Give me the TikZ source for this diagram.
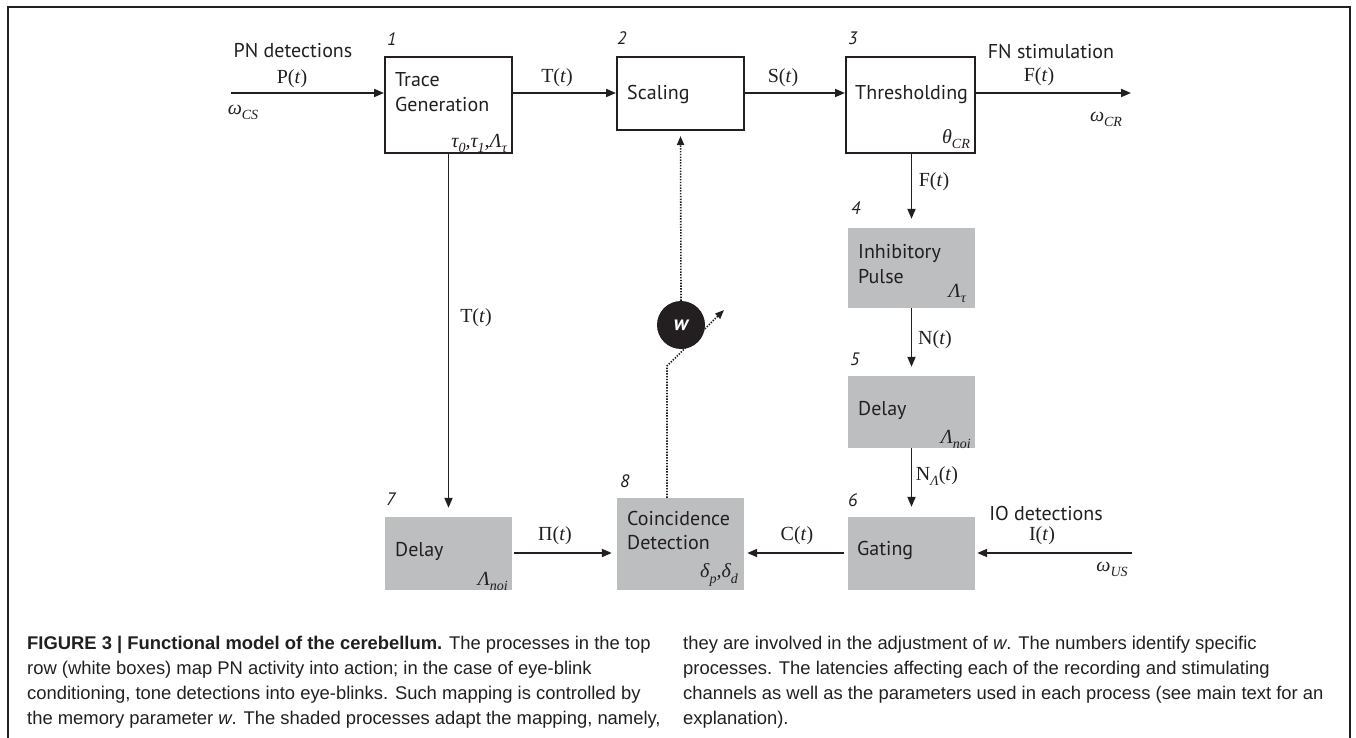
\documentclass[tikz,border=0pt]{standalone}
\usepackage{fontspec}
\setmainfont{PT Sans}
\newfontfamily\mf{Liberation Serif}
\newfontfamily\capf{Liberation Sans}
\usetikzlibrary{arrows.meta}
\definecolor{ink}{RGB}{35,31,32}
\definecolor{boxgray}{RGB}{189,190,192}
\newcommand\fnl[1]{{\mf #1(\textit{t})}}
\newcommand\sbx[1]{\raisebox{-0.55ex}{\fontsize{14}{14}\selectfont #1}}
\tikzset{
  whitebox/.style={draw=ink, line width=2pt, fill=white, inner sep=0pt},
  graybox/.style={fill=boxgray, minimum width=127pt, inner sep=0pt},
  boxtxt/.style={font=\fontsize{20}{24}\selectfont, inner sep=0pt, anchor=base west, text=ink},
  siglbl/.style={font=\fontsize{20}{24}\selectfont, inner sep=0pt, text=ink},
  parlbl/.style={font=\fontsize{20}{24}\selectfont\mf\itshape, inner sep=0pt, anchor=east, text=ink},
  numlbl/.style={font=\fontsize{18}{20}\selectfont\itshape, inner sep=0pt, anchor=base west, text=ink},
  arr/.style={draw=ink, line width=1.8pt, -{Triangle[length=10pt,width=8pt]}},
  dotl/.style={draw=ink, line width=1.6pt, dash pattern=on 1.4pt off 1.4pt, -{Triangle[length=9pt,width=7pt]}},
  captext/.style={font=\fontsize{18.4}{22}\selectfont\capf, inner sep=0pt, anchor=base west, text=ink}
}
\begin{document}
\begin{tikzpicture}[x=1pt,y=-1pt]
\useasboundingbox (0,0) rectangle (1356,738);
\draw[ink, line width=1.3pt] (8,738) -- (8,7) -- (1350,7) -- (1350,738);

% boxes
\node[whitebox, minimum width=127pt, minimum height=96pt] (b1) at (448.5,105) {};
\node[whitebox, minimum width=127pt, minimum height=73pt] (b2) at (680.5,93.5) {};
\node[whitebox, minimum width=129pt, minimum height=96pt] (b3) at (910.5,105) {};
\node[graybox, minimum height=80pt] (b4) at (911.5,268) {};
\node[graybox, minimum height=72pt] (b5) at (911.5,412) {};
\node[graybox, minimum height=73pt] (b6) at (911.5,553.5) {};
\node[graybox, minimum height=73pt] (b7) at (448.5,553.5) {};
\node[graybox, minimum height=92pt] (b8) at (680.5,544) {};

% box texts
\node[boxtxt] (t1a) at (395,87) {Trace};
\node[boxtxt] (t1b) at (395,112) {Generation};
\node[boxtxt] (t2) at (627,100) {Scaling};
\node[boxtxt] (t3) at (855,100) {Thresholding};
\node[boxtxt] (t4a) at (858,258) {Inhibitory};
\node[boxtxt] (t4b) at (858,283) {Pulse};
\node[boxtxt] (t5) at (858,415) {Delay};
\node[boxtxt] (t6) at (857,555) {Gating};
\node[boxtxt] (t7) at (395,556) {Delay};
\node[boxtxt] (t8a) at (627,525) {Coincidence};
\node[boxtxt] (t8b) at (627,549) {Detection};

% numbers
\node[numlbl] (n1) at (387,46) {1};
\node[numlbl] (n2) at (617,45) {2};
\node[numlbl] (n3) at (848,45) {3};
\node[numlbl] (n4) at (851,214) {4};
\node[numlbl] (n5) at (850,365) {5};
\node[numlbl] (n6) at (848,506) {6};
\node[numlbl] (n7) at (386,505) {7};
\node[numlbl] (n8) at (620,487) {8};

% parameters
\node[parlbl] (p1) at (507,143) {τ\sbx{0},τ\sbx{1},Λ\sbx{τ}};
\node[parlbl] (p3) at (970,139) {θ\sbx{CR}};
\node[parlbl] (p4) at (966,293) {Λ\sbx{τ}};
\node[parlbl] (p5) at (971,439) {Λ\sbx{noi}};
\node[parlbl] (p7) at (508,581) {Λ\sbx{noi}};
\node[parlbl] (p8) at (738,575) {δ\sbx{p},δ\sbx{d}};

% top row connectors
\coordinate (pin) at (231,93);
\coordinate (fout) at (1131,93);
\draw[arr] (pin) -- (pin -| b1.west);
\draw[arr] (b1.east |- pin) -- (b2.west |- pin);
\draw[arr] (b2.east |- pin) -- (b3.west |- pin);
\draw[arr] (b3.east |- pin) -- (fout);

% vertical connectors
\draw[arr, shorten >=9pt] (b4.north |- b3.south) -- (b4.north);
\draw[arr, shorten >=9pt] (b4.south) -- (b5.north);
\draw[arr, shorten >=10pt] (b5.south) -- (b6.north);
\draw[arr, shorten >=9pt] (b1.south) -- (b7.north);

% bottom row connectors
\coordinate (ya) at (0,553);
\coordinate (iin) at (1132,553);
\draw[arr, shorten <=2pt, shorten >=5pt] (b7.east |- ya) -- (b8.west |- ya);
\draw[arr, shorten <=4pt, shorten >=3pt] (b6.west |- ya) -- (b8.east |- ya);
\draw[arr, shorten >=2pt] (iin) -- (b6.east |- iin);

% dotted adjustment path and weight
\coordinate (c1) at (667,366);
\coordinate (c2) at (724,310);
\draw[dotl] (b8.north -| c1) -- (c1) -- (c2);
\node[circle, fill=ink, minimum size=48pt, inner sep=0pt, text=white,
      font=\fontsize{21}{21}\selectfont\bfseries\itshape] (w) at (681,325) {w};
\draw[dotl, shorten >=5pt] (w.north) -- (b2.south);

% signal labels
\node[siglbl] (lpn) at (293,51) {PN detections};
\node[siglbl] (lp) at (292,79) {\fnl{P}};
\node[siglbl, font=\fontsize{20}{24}\selectfont\mf\itshape] (lwcs) at (243,112) {ω\sbx{CS}};
\node[siglbl] (lt) at (557,78) {\fnl{T}};
\node[siglbl] (ls) at (783,78) {\fnl{S}};
\node[siglbl] (lfn) at (1051,52) {FN stimulation};
\node[siglbl] (lf) at (1039,77) {\fnl{F}};
\node[siglbl, font=\fontsize{20}{24}\selectfont\mf\itshape] (lwcr) at (1106,119) {ω\sbx{CR}};
\node[siglbl] (lf2) at (934,182) {\fnl{F}};
\node[siglbl] (ln) at (935,340) {\fnl{N}};
\node[siglbl] (lnl) at (937,476) {{\mf N\sbx{\itshape Λ}(\textit{t})}};
\node[siglbl] (lt2) at (476,318) {\fnl{T}};
\node[siglbl] (lpi) at (555,536) {\fnl{Π}};
\node[siglbl] (lc) at (797,536) {\fnl{C}};
\node[siglbl] (lio) at (1046,513) {IO detections};
\node[siglbl] (li) at (1042,536) {\fnl{I}};
\node[siglbl, font=\fontsize{20}{24}\selectfont\mf\itshape] (lwus) at (1112,569) {ω\sbx{US}};

% caption
\node[captext] (ca1) at (27,649) {\textbf{FIGURE 3 | Functional model of the cerebellum.} The processes in the top};
\node[captext] (ca2) at (27,674) {row (white boxes) map PN activity into action; in the case of eye-blink};
\node[captext] (ca3) at (27,699) {conditioning, tone detections into eye-blinks. Such mapping is controlled by};
\node[captext] (ca4) at (27,724) {the memory parameter \textit{w}. The shaded processes adapt the mapping, namely,};
\node[captext] (cb1) at (683,649) {they are involved in the adjustment of \textit{w}. The numbers identify specific};
\node[captext] (cb2) at (683,674) {processes. The latencies affecting each of the recording and stimulating};
\node[captext] (cb3) at (683,699) {channels as well as the parameters used in each process (see main text for an};
\node[captext] (cb4) at (683,724) {explanation).};
\end{tikzpicture}
\end{document}
